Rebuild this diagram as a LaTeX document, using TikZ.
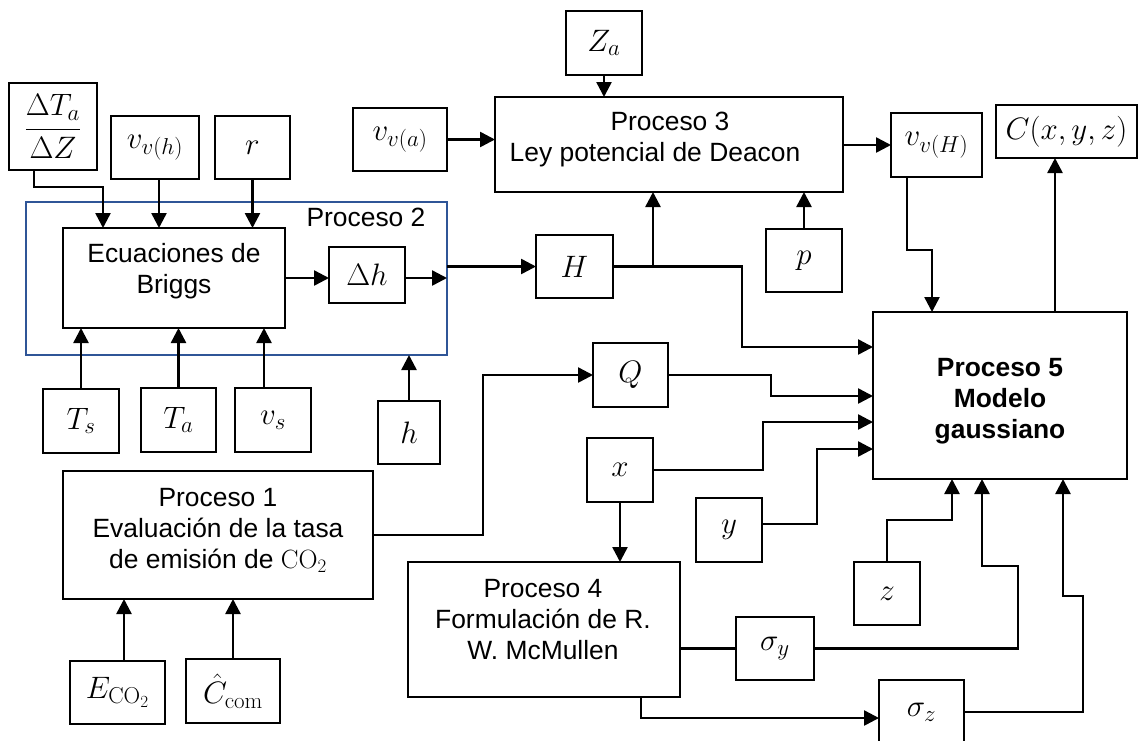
\RequirePackage{fix-cm}
\documentclass[tikz,border=0pt]{standalone}
\usepackage[no-math]{fontspec}
\setmainfont{Liberation Sans}
\usepackage{amsmath}
\DeclareMathSizes{31}{31}{23}{17}
\DeclareMathSizes{26.4}{26.4}{19}{14}
\usetikzlibrary{arrows.meta}
\definecolor{blueP}{RGB}{47,85,151}
\newcommand\bx[6]{\node[box,minimum width=#4pt,minimum height=#5pt] (#1) at (#2,#3) {#6};}
\begin{document}
\begin{tikzpicture}[x=1pt,y=-1pt,
  every node/.style={font=\fontsize{26.4}{31}\selectfont, inner sep=0pt, outer sep=0pt},
  box/.style={draw, line width=2.5pt, line join=miter, font=\fontsize{31}{36}\selectfont},
  wire/.style={line width=2.5pt, line join=miter},
  arr/.style={wire, -{Triangle[length=15pt,width=15pt]}},
  bluebox/.style={draw=blueP, line width=2pt},
  btxt/.style={font=\fontsize{26.4}{31}\selectfont\bfseries, align=center}]
\useasboundingbox (0,0) rectangle (1139,740);
\clip (0,0) rectangle (1139,740);
% Proceso 2 frame
\node[bluebox, minimum width=421pt, minimum height=153pt] (P2) at (236.5,278.5) {};
\node (P2t) at (366,217) {Proceso 2};
% boxes
\bx{dTZ}{53}{126.5}{88}{87}{$\dfrac{\Delta T_a}{\Delta Z}$}
\bx{vvh}{155}{147.5}{88}{63}{$v_{v(h)}$}
\bx{nr}{252.5}{147.5}{75}{63}{$r$}
\bx{vva}{400}{139.5}{94}{63}{$v_{v(a)}$}
\bx{Briggs}{174}{278}{222}{100}{}
\node[align=center] (Briggst) at (174,271) {Ecuaciones de\\Briggs};
\bx{dh}{367}{275}{76}{56}{$\Delta h$}
\bx{nH}{574.5}{266.5}{77}{63}{$H$}
\bx{P3}{669}{144.5}{348}{95}{}
\node[align=center] (P3t) at (655,140) {\hspace*{30pt}Proceso 3\\Ley potencial de Deacon};
\bx{Za}{604}{43}{76}{64}{$Z_a$}
\bx{vvH}{936.5}{145}{91}{64}{$v_{v(H)}$}
\bx{nC}{1066.5}{131.5}{141}{53}{$C(x,y,z)$}
\bx{np}{804}{260.5}{76}{63}{$p$}
\bx{P5}{1000}{395.5}{254}{167}{}
\node[btxt] (P5t) at (1000,401) {Proceso 5\\Modelo\\gaussiano};
\bx{Ts}{81}{421}{76}{64}{$T_s$}
\bx{Ta}{178.5}{420}{75}{64}{$T_a$}
\bx{vs}{273}{420}{76}{64}{$v_s$}
\bx{nh}{409}{432.5}{62}{63}{$h$}
\bx{P1}{218}{535}{310}{128}{}
\node[align=center] (P1t) at (218,530) {Proceso 1\\Evaluación de la tasa\\de emisión de $\mathrm{CO}_2$};
\bx{Eco}{117.5}{692.5}{95}{63}{$E_{\mathrm{CO}_2}$}
\bx{Ccom}{233}{691}{94}{64}{$\hat{C}_{\mathrm{com}}$}
\bx{nQ}{630.5}{375}{75}{64}{$Q$}
\bx{nx}{620}{470}{66}{64}{$x$}
\bx{ny}{729}{530}{66}{64}{$y$}
\bx{nz}{887}{593.5}{66}{63}{$z$}
\bx{P4}{544}{629.5}{272}{135}{}
\node[align=center] (P4t) at (543,620) {Proceso 4\\Formulación de R.\\W. McMullen};
\bx{sy}{775}{648.5}{78}{63}{$\sigma_y$}
\bx{sz}{921.5}{712}{85}{64}{$\sigma_z$}
% connectors into Briggs
\coordinate (a) at ([xshift=-19pt]dTZ.south);
\coordinate (b) at ([xshift=-71pt]Briggs.north);
\draw[arr] (a) -- ++(0,17) -| (b);
\coordinate (c) at ([xshift=4pt]vvh.south);
\draw[arr] (c) -- (c |- Briggs.north);
\draw[arr] (nr.south) -- (nr.south |- Briggs.north);
\draw[arr] (Ts.north) -- (Ts.north |- Briggs.south);
\draw[arr] (Ta.north) -- (Ta.north |- Briggs.south);
\coordinate (d) at ([xshift=-9pt]vs.north);
\draw[arr] (d) -- (d |- Briggs.south);
\draw[arr] (Briggs.east) -- (Briggs.east -| dh.west);
\draw[arr] (dh.east |- Briggs.east) -- (Briggs.east -| P2.east);
\draw[arr] (nh.north) -- (nh.north |- P2.south);
% H and Proceso 3
\draw[arr] (P2.east |- nH.west) -- (nH.west);
\coordinate (hj) at (742,266.5);
\draw[arr] (nH.east) -- (hj) |- ([yshift=48.5pt]P5.west);
\coordinate (hb) at (653,266.5);
\draw[arr] (hb) -- (hb |- P3.south);
\draw[arr] (Za.south) -- (Za.south |- P3.north);
\draw[arr] (vva.east) -- (vva.east -| P3.west);
\draw[arr] (P3.east |- vvH.west) -- (vvH.west);
\draw[arr] (np.north) -- (np.north |- P3.south);
\coordinate (e1) at ([xshift=-29.5pt]vvH.south);
\coordinate (e2) at (932,250);
\draw[arr] (e1) |- (e2) -- (e2 |- P5.north);
\coordinate (f) at ([xshift=-11.5pt]nC.south);
\draw[arr] (f |- P5.north) -- (f);
% Proceso 1 and Q
\coordinate (g) at ([xshift=6.5pt]Eco.north);
\draw[arr] (g) -- (g |- P1.south);
\draw[arr] (Ccom.north) -- (Ccom.north |- P1.south);
\coordinate (q1) at (483,535);
\draw[arr] (P1.east) -- (q1) |- (nQ.west);
\coordinate (q2) at (771,375);
\coordinate (q3) at (771,396);
\draw[arr] (nQ.east) -- (q2) -- (q3) -- (q3 -| P5.west);
% x, y, z
\coordinate (x2) at (763,470);
\coordinate (x3) at (763,422);
\draw[arr] (nx.east) -- (x2) -- (x3) -- (x3 -| P5.west);
\coordinate (y1) at ([yshift=6pt]ny.east);
\coordinate (y2) at (817,524);
\coordinate (y3) at (817,449);
\draw[arr] (y1) -- (y2) -- (y3) -- (y3 -| P5.west);
\draw[arr] (nx.south) -- (nx.south |- P4.north);
\coordinate (u1) at (887,520);
\coordinate (u2) at (952,520);
\draw[arr] (nz.north) -- (u1) -- (u2) -- (u2 |- P5.south);
% sigma
\draw[wire] (P4.east |- sy.west) -- (sy.west);
\coordinate (s1) at (1018,648.5);
\coordinate (s2) at (1018,566);
\coordinate (s3) at (982,566);
\draw[arr] (sy.east) -- (s1) -- (s2) -- (s3) -- (s3 |- P5.south);
\coordinate (z1) at ([xshift=97pt]P4.south);
\coordinate (z2) at (641,718);
\draw[arr] (z1) -- (z2) -- (z2 -| sz.west);
\coordinate (t1) at (1083,712);
\coordinate (t2) at (1083,596);
\coordinate (t3) at (1063,596);
\draw[arr] (sz.east) -- (t1) -- (t2) -- (t3) -- (t3 |- P5.south);
\end{tikzpicture}
\end{document}
